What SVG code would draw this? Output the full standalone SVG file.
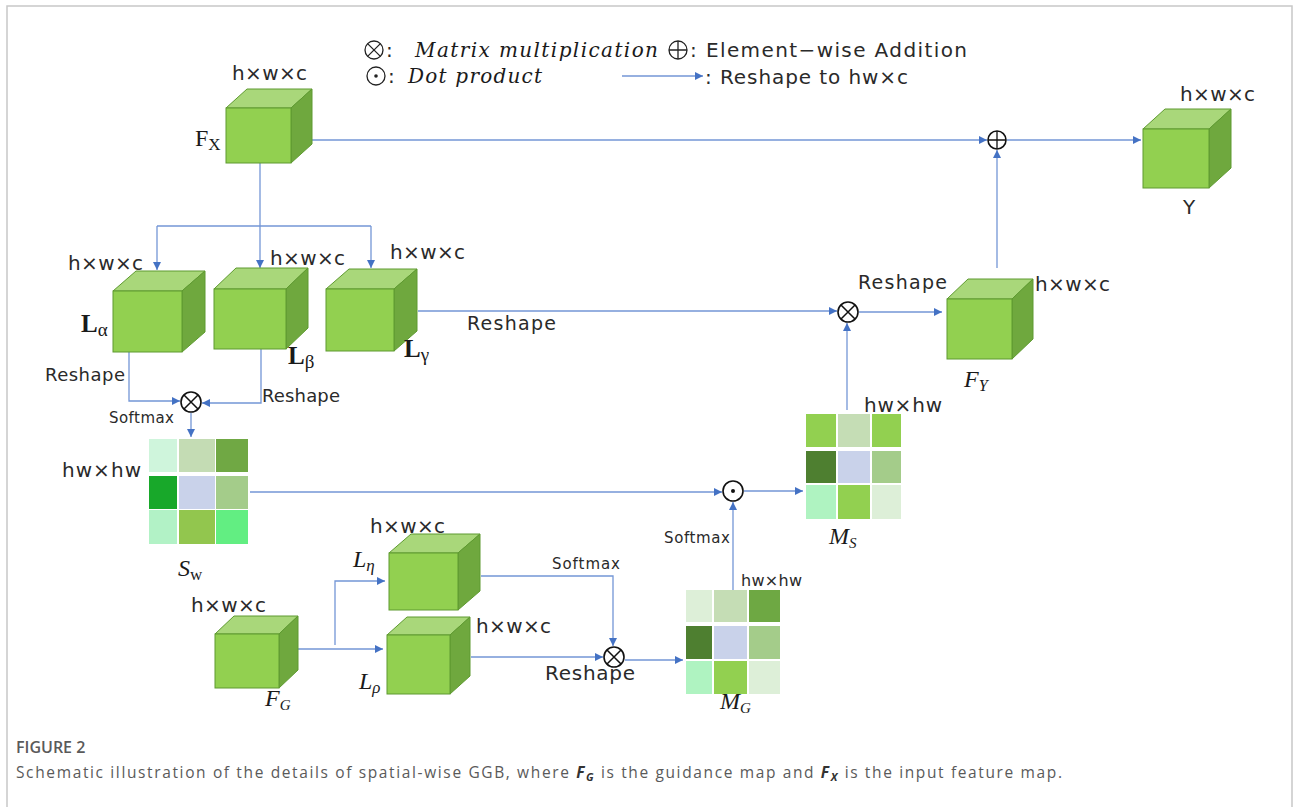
<svg xmlns="http://www.w3.org/2000/svg" width="1293" height="807" viewBox="0 0 1293 807">
<style>
.front{fill:#92D050;stroke:#5E9A30;stroke-width:1}
.top{fill:#A9D77A;stroke:#5E9A30;stroke-width:1}
.side{fill:#6FA83E;stroke:#5E9A30;stroke-width:1}
.lbl{font-family:"DejaVu Sans","Noto Sans",sans-serif;fill:#2a2a2a}
.math{font-family:"Liberation Serif","DejaVu Serif",serif;fill:#1a1a1a}
.imath{font-family:"DejaVu Serif","Liberation Serif",serif;font-style:italic;fill:#1a1a1a}
.con{fill:none;stroke:#7396D6;stroke-width:1.3}
.op{fill:#fff;stroke:#111;stroke-width:1.6}
.sym{fill:none;stroke:#222;stroke-width:1.3}
.cap{font-family:"Open Sans","Liberation Sans",sans-serif;fill:#5a5a5a}
</style>
<defs>
<marker id="ah" markerWidth="9" markerHeight="8" refX="8" refY="4" orient="auto" markerUnits="userSpaceOnUse">
<path d="M0,0 L8,4 L0,8 Z" fill="#4472C4"/>
</marker>
</defs>
<rect x="0" y="0" width="1293" height="807" fill="#fff"/>
<path d="M7,807 V6 H1292 V807" fill="none" stroke="#c8c8c8" stroke-width="1.5"/>

<!-- legend -->
<g id="legend">
<circle cx="374" cy="50" r="9" class="sym"/><path d="M367.6,43.6 L380.4,56.4 M380.4,43.6 L367.6,56.4" class="sym"/>
<text x="386" y="57" class="lbl" font-size="20">:</text>
<text x="415" y="57" class="imath" font-size="20" textLength="243">Matrix multiplication</text>
<circle cx="678" cy="50" r="9" class="sym"/><path d="M669,50 H687 M678,41 V59" class="sym"/>
<text x="690" y="57" class="lbl" font-size="20" textLength="277">: Element−wise Addition</text>
<circle cx="376" cy="76" r="9" class="sym"/><circle cx="376" cy="76" r="1.8" fill="#222"/>
<text x="388" y="83" class="lbl" font-size="20">:</text>
<text x="408" y="83" class="imath" font-size="20" textLength="134">Dot product</text>
<path d="M622,76 H703" class="con" marker-end="url(#ah)"/>
<text x="705" y="84" class="lbl" font-size="20" textLength="203">: Reshape to hw×c</text>
</g>

<!-- connectors -->
<g id="connectors">
<path class="con" d="M260,163 V268" marker-end="url(#ah)"/>
<path class="con" d="M157,226 H371"/>
<path class="con" d="M157,226 V270" marker-end="url(#ah)"/>
<path class="con" d="M371,226 V268" marker-end="url(#ah)"/>
<path class="con" d="M311,140 H987" marker-end="url(#ah)"/>
<path class="con" d="M1007,140 H1141" marker-end="url(#ah)"/>
<path class="con" d="M997,268 V150" marker-end="url(#ah)"/>
<path class="con" d="M418,311 H837" marker-end="url(#ah)"/>
<path class="con" d="M859,312 H942" marker-end="url(#ah)"/>
<path class="con" d="M847,410 V323" marker-end="url(#ah)"/>
<path class="con" d="M129,352 V401 H180" marker-end="url(#ah)"/>
<path class="con" d="M261,349 V403 H202" marker-end="url(#ah)"/>
<path class="con" d="M191,413 V437" marker-end="url(#ah)"/>
<path class="con" d="M250,492 H722" marker-end="url(#ah)"/>
<path class="con" d="M744,491 H803" marker-end="url(#ah)"/>
<path class="con" d="M733,590 V502" marker-end="url(#ah)"/>
<path class="con" d="M297,649 H383" marker-end="url(#ah)"/>
<path class="con" d="M335,645 V581 H385" marker-end="url(#ah)"/>
<path class="con" d="M481,576 H613 V646" marker-end="url(#ah)"/>
<path class="con" d="M471,657 H603" marker-end="url(#ah)"/>
<path class="con" d="M625,660 H683" marker-end="url(#ah)"/>
</g>

<!-- operators -->
<g id="op-mul1"><circle cx="191" cy="402" r="10" class="op"/><path d="M184,395 L198,409 M198,395 L184,409" stroke="#111" stroke-width="1.5"/></g>
<g id="op-mul2"><circle cx="848" cy="312" r="10" class="op"/><path d="M841,305 L855,319 M855,305 L841,319" stroke="#111" stroke-width="1.5"/></g>
<g id="op-mul3"><circle cx="614" cy="657" r="10" class="op"/><path d="M607,650 L621,664 M621,650 L607,664" stroke="#111" stroke-width="1.5"/></g>
<g id="op-dot"><circle cx="733" cy="491" r="10" class="op"/><circle cx="733" cy="491" r="2" fill="#111"/></g>
<g id="op-add"><circle cx="997" cy="140" r="9" class="op" stroke-width="1.3"/><path d="M988,140 H1006 M997,131 V149" stroke="#111" stroke-width="1.3"/></g>

<!-- cubes -->
<g id="Fx">
<polygon class="top" points="226,108 247,89 312,89 291,108"/>
<polygon class="side" points="291,108 312,89 312,144 291,163"/>
<rect class="front" x="226" y="108" width="65" height="55"/>
<text x="232" y="80" class="lbl" font-size="20" textLength="75">h×w×c</text>
<text x="195" y="146" class="math" font-size="24">F<tspan font-size="17" dy="4">X</tspan></text>
</g>
<g id="La">
<polygon class="top" points="113,291 136,271 205,271 182,291"/>
<polygon class="side" points="182,291 205,271 205,332 182,352"/>
<rect class="front" x="113" y="291" width="69" height="61"/>
<text x="68" y="270" class="lbl" font-size="20" textLength="75">h×w×c</text>
<text x="81" y="332" class="math" font-size="25" font-weight="bold">L<tspan font-size="19" dy="4" font-weight="normal">α</tspan></text>
</g>
<g id="Lb">
<polygon class="top" points="214,289 236,268 308,268 286,289"/>
<polygon class="side" points="286,289 308,268 308,328 286,349"/>
<rect class="front" x="214" y="289" width="72" height="60"/>
<text x="270" y="265" class="lbl" font-size="20" textLength="75">h×w×c</text>
<text x="288" y="364" class="math" font-size="25" font-weight="bold">L<tspan font-size="19" dy="4" font-weight="normal">β</tspan></text>
</g>
<g id="Lg">
<polygon class="top" points="326,289 349,269 417,269 394,289"/>
<polygon class="side" points="394,289 417,269 417,331 394,351"/>
<rect class="front" x="326" y="289" width="68" height="62"/>
<text x="390" y="259" class="lbl" font-size="20" textLength="75">h×w×c</text>
<text x="404" y="357" class="math" font-size="25" font-weight="bold">L<tspan font-size="19" dy="4" font-weight="normal">γ</tspan></text>
</g>
<g id="Fy">
<polygon class="top" points="947,299 968,279 1033,279 1012,299"/>
<polygon class="side" points="1012,299 1033,279 1033,339 1012,359"/>
<rect class="front" x="947" y="299" width="65" height="60"/>
<text x="1035" y="291" class="lbl" font-size="20" textLength="75">h×w×c</text>
<text x="858" y="289" class="lbl" font-size="19" textLength="89">Reshape</text>
<text x="964" y="387" class="math" font-size="24" font-style="italic">F<tspan font-size="16" dy="4">Y</tspan></text>
</g>
<g id="Y">
<polygon class="top" points="1143,129 1165,109 1231,109 1209,129"/>
<polygon class="side" points="1209,129 1231,109 1231,168 1209,188"/>
<rect class="front" x="1143" y="129" width="66" height="59"/>
<text x="1180" y="101" class="lbl" font-size="20" textLength="75">h×w×c</text>
<text x="1183" y="214" class="lbl" font-size="20">Y</text>
</g>
<g id="FG">
<polygon class="top" points="215,634 234,616 298,616 279,634"/>
<polygon class="side" points="279,634 298,616 298,670 279,688"/>
<rect class="front" x="215" y="634" width="64" height="54"/>
<text x="191" y="612" class="lbl" font-size="20" textLength="75">h×w×c</text>
<text x="265" y="706" class="math" font-size="24" font-style="italic">F<tspan font-size="15" dy="4">G</tspan></text>
</g>
<g id="Leta">
<polygon class="top" points="389,553 411,534 480,534 458,553"/>
<polygon class="side" points="458,553 480,534 480,591 458,610"/>
<rect class="front" x="389" y="553" width="69" height="57"/>
<text x="370" y="533" class="lbl" font-size="20" textLength="75">h×w×c</text>
<text x="353" y="567" class="math" font-size="24" font-style="italic">L<tspan font-size="17" dy="4">η</tspan></text>
</g>
<g id="Lrho">
<polygon class="top" points="387,635 407,617 470,617 450,635"/>
<polygon class="side" points="450,635 470,617 470,676 450,694"/>
<rect class="front" x="387" y="635" width="63" height="59"/>
<text x="476" y="633" class="lbl" font-size="20" textLength="75">h×w×c</text>
<text x="359" y="689" class="math" font-size="24" font-style="italic" fill="#7a5a5a">L<tspan font-size="17" dy="4" fill="#1a1a1a">ρ</tspan></text>
</g>

<!-- matrices -->
<g id="Sw">
<rect x="149" y="439" width="28" height="33" fill="#CFF5DC"/>
<rect x="179" y="439" width="36" height="33" fill="#C4DCB4"/>
<rect x="216" y="439" width="32" height="33" fill="#70A844"/>
<rect x="149" y="476" width="28" height="33" fill="#18A82A"/>
<rect x="179" y="476" width="36" height="33" fill="#C9D2EA"/>
<rect x="216" y="476" width="32" height="33" fill="#A4CC8A"/>
<rect x="149" y="510" width="28" height="34" fill="#B2F2C6"/>
<rect x="179" y="510" width="36" height="34" fill="#92C64E"/>
<rect x="216" y="510" width="32" height="34" fill="#62EE82"/>
<text x="62" y="477" class="lbl" font-size="20" textLength="79">hw×hw</text>
<text x="109" y="423" class="lbl" font-size="15" textLength="65">Softmax</text>
<text x="45" y="381" class="lbl" font-size="18" textLength="80">Reshape</text>
<text x="262" y="402" class="lbl" font-size="18" textLength="78">Reshape</text>
<text x="178" y="576" class="math" font-size="24" font-style="italic">S<tspan font-size="17" dy="4" font-style="normal">w</tspan></text>
</g>
<g id="Ms">
<rect x="806" y="414" width="30" height="33" fill="#92D050"/>
<rect x="838" y="414" width="32" height="33" fill="#C5DDB5"/>
<rect x="872" y="414" width="29" height="33" fill="#92D050"/>
<rect x="806" y="451" width="30" height="32" fill="#4E7F30"/>
<rect x="838" y="451" width="32" height="32" fill="#C9D2EA"/>
<rect x="872" y="451" width="29" height="32" fill="#A4CC8A"/>
<rect x="806" y="485" width="30" height="34" fill="#AFF3C1"/>
<rect x="838" y="485" width="32" height="34" fill="#92D050"/>
<rect x="872" y="485" width="29" height="34" fill="#DDEFD8"/>
<text x="864" y="412" class="lbl" font-size="20" textLength="78">hw×hw</text>
<text x="467" y="330" class="lbl" font-size="19" textLength="89">Reshape</text>
<text x="664" y="543" class="lbl" font-size="15" textLength="66">Softmax</text>
<text x="829" y="544" class="math" font-size="24" font-style="italic">M<tspan font-size="15" dy="4">S</tspan></text>
</g>
<g id="MG">
<rect x="686" y="590" width="26" height="32" fill="#DDEFD8"/>
<rect x="714" y="590" width="33" height="32" fill="#C5DDB5"/>
<rect x="749" y="590" width="31" height="32" fill="#6EA843"/>
<rect x="686" y="626" width="26" height="33" fill="#4E7F30"/>
<rect x="714" y="626" width="33" height="33" fill="#C9D2EA"/>
<rect x="749" y="626" width="31" height="33" fill="#A4CC8A"/>
<rect x="686" y="661" width="26" height="33" fill="#AFF3C1"/>
<rect x="714" y="661" width="33" height="33" fill="#92D050"/>
<rect x="749" y="661" width="31" height="33" fill="#DDEFD8"/>
<text x="741" y="586" class="lbl" font-size="16" textLength="61">hw×hw</text>
<text x="552" y="569" class="lbl" font-size="15" textLength="68">Softmax</text>
<text x="545" y="680" class="lbl" font-size="20" textLength="90">Reshape</text>
<text x="720" y="709" class="math" font-size="24" font-style="italic">M<tspan font-size="15" dy="4">G</tspan></text>
</g>

<!-- caption -->
<g id="caption">
<text x="16" y="753" class="cap" font-size="16" font-weight="600">FIGURE 2</text>
<text x="16" y="778" class="cap" font-size="15.5" textLength="1046">Schematic illustration of the details of spatial-wise GGB, where <tspan font-weight="bold" font-style="italic" fill="#333">F<tspan font-size="11" dy="3">G</tspan></tspan><tspan dy="-3"> is the guidance map and </tspan><tspan font-weight="bold" font-style="italic" fill="#333">F<tspan font-size="11" dy="3">X</tspan></tspan><tspan dy="-3"> is the input feature map.</tspan></text>
</g>
</svg>
